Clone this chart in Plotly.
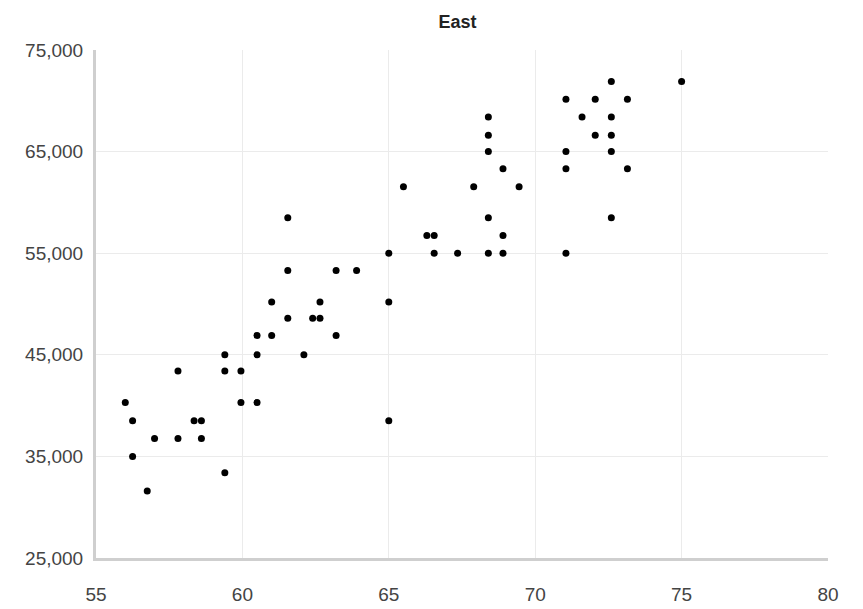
import plotly.graph_objects as go

x_vals = [56.0, 56.25, 56.25, 56.75, 57.0, 57.8, 57.8, 58.35, 58.6, 58.6,
          59.4, 59.4, 59.4, 59.95, 59.95, 60.5, 60.5, 60.5, 61.0, 61.0,
          61.55, 61.55, 61.55, 62.1, 62.4, 62.65, 62.65, 63.2, 63.2, 63.9,
          65.0, 65.0, 65.0, 65.5, 66.3, 66.55, 66.55, 67.35, 67.9,
          68.4, 68.4, 68.4, 68.4, 68.4, 68.9, 68.9, 68.9, 69.45,
          71.05, 71.05, 71.05, 71.05, 71.6, 72.05, 72.05,
          72.6, 72.6, 72.6, 72.6, 72.6, 73.15, 73.15, 75.0]
y_vals = [40300, 38500, 35000, 31600, 36750, 43400, 36750, 38500, 38500, 36750,
          45000, 43400, 33400, 43400, 40300, 46900, 45000, 40300, 50200, 46900,
          58500, 53300, 48600, 45000, 48600, 50200, 48600, 53300, 46900, 53300,
          55000, 50200, 38500, 61550, 56750, 56750, 55000, 55000, 61550,
          68400, 66600, 65000, 58500, 55000, 63300, 56750, 55000, 61550,
          70150, 65000, 63300, 55000, 68400, 70150, 66600,
          71900, 68400, 66600, 65000, 58500, 70150, 63300, 71900]

x_ticks = [55, 60, 65, 70, 75, 80]
y_ticks = [25000, 35000, 45000, 55000, 65000, 75000]
title = "East"

fig = go.Figure(go.Scatter(
    x=x_vals, y=y_vals, mode="markers",
    marker=dict(color="black", size=7),
    hoverinfo="x+y",
))

font_family = "Liberation Sans, Arial, sans-serif"
fig.update_layout(
    width=863, height=609,
    margin=dict(l=88, r=43, t=42, b=57),
    paper_bgcolor="white", plot_bgcolor="white",
    showlegend=False,
    title=dict(text="<b>" + title + "</b>", x=0.521, xanchor="center",
               y=0.977, yanchor="middle",
               font=dict(family=font_family, size=18, color="#222")),
    font=dict(family=font_family, color="#444"),
    xaxis=dict(range=[55, 80], tickvals=x_ticks, ticktext=[str(v) for v in x_ticks],
               showgrid=True, gridcolor="#ebebeb", gridwidth=1,
               showline=True, linecolor="#cfcfcf", linewidth=3,
               zeroline=False, ticks="outside", ticklen=17,
               tickcolor="rgba(0,0,0,0)", tickfont=dict(size=19, color="#444")),
    yaxis=dict(range=[25000, 75000], tickvals=y_ticks,
               ticktext=[f"{v:,}" for v in y_ticks],
               showgrid=True, gridcolor="#ebebeb", gridwidth=1,
               showline=True, linecolor="#cfcfcf", linewidth=3,
               zeroline=False, ticks="outside", ticklen=6,
               tickcolor="rgba(0,0,0,0)", tickfont=dict(size=19, color="#444")),
)

fig.write_html("out.html")
